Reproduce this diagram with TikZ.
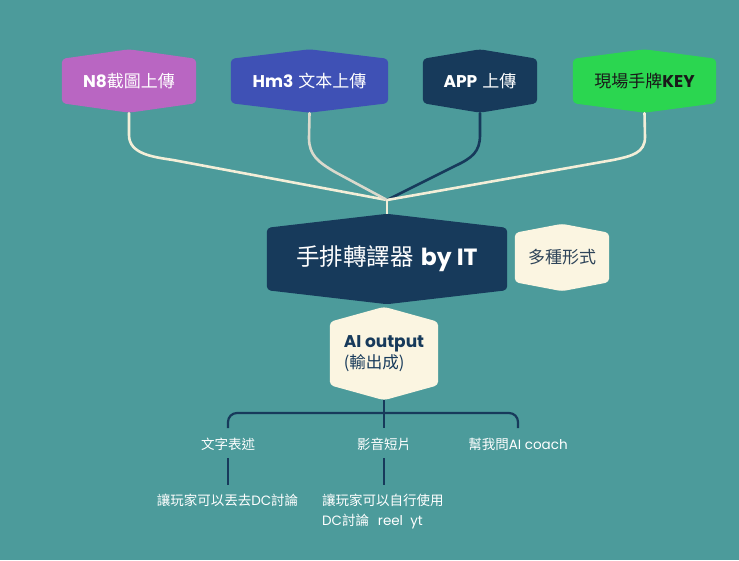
\documentclass[tikz,border=0pt]{standalone}
\usepackage{fontspec}
\newfontfamily\cjk{Noto Sans CJK TC}
\newfontfamily\lat{Poppins}
\usetikzlibrary{backgrounds}
\definecolor{bgteal}{HTML}{4C9B9B}
\definecolor{navy}{HTML}{173A5B}
\definecolor{purp}{HTML}{B966C2}
\definecolor{indig}{HTML}{3F51B5}
\definecolor{grn}{HTML}{2BD650}
\definecolor{cream}{HTML}{FBF5E1}
\definecolor{creamline}{HTML}{F3EED8}
\definecolor{greyline}{HTML}{DAD9CC}
\definecolor{darktxt}{HTML}{2E4459}
\newcommand{\hexfill}[3]{\fill[#2, rounded corners=4pt] (#1.north west) -- ([yshift=#3]#1.north) -- (#1.north east) -- (#1.south east) -- ([yshift=-#3]#1.south) -- (#1.south west) -- cycle;}
\tikzset{
  hexnode/.style={inner sep=0pt, align=center},
  toptxt/.style={font=\fontsize{17}{20}\selectfont, text=white},
  link/.style={line width=2.6pt, line cap=round},
  navylink/.style={line width=2.2pt, draw=navy},
  lbl/.style={font=\fontsize{13.5}{20}\selectfont, text=white, inner sep=0pt}
}
\begin{document}
\begin{tikzpicture}[x=1pt,y=-1pt]
\useasboundingbox (0,0) rectangle (739,560);
% top sources
\node[hexnode, toptxt, minimum width=134pt, minimum height=44pt] (n8) at (129,81) {{\lat\bfseries N8}{\cjk 截圖上傳}};
\node[hexnode, toptxt, minimum width=157pt, minimum height=44pt] (hm3) at (309.5,81) {{\lat\bfseries Hm3} {\cjk 文本上傳}};
\node[hexnode, toptxt, minimum width=114pt, minimum height=44pt] (app) at (480,81) {{\lat\bfseries APP} {\cjk 上傳}};
\node[hexnode, toptxt, text=black!90, minimum width=143pt, minimum height=44pt] (key) at (644.5,81) {{\cjk 現場手牌}{\lat\bfseries KEY}};
% main
\node[hexnode, font=\fontsize{23.5}{28}\selectfont, text=white, minimum width=240pt, minimum height=62pt] (main) at (387,259) {{\cjk 手排轉譯器} {\lat\bfseries by IT}};
\node[hexnode, font=\fontsize{17}{20}\selectfont, text=darktxt, minimum width=94pt, minimum height=49pt] (multi) at (562,257.5) {\cjk 多種形式};
\node[hexnode, align=left, text=navy, minimum width=108pt, minimum height=63pt] (ai) at (384,353.5) {{\fontsize{17}{23}\selectfont\lat\bfseries AI output}\\[1pt]{\fontsize{16.5}{23}\selectfont\cjk (輸出成)}};
% joint
\coordinate (join) at (387,200);
% outputs
\node[lbl] (t1) at (228,444) {\cjk 文字表述};
\node[lbl] (t2) at (384,444) {\cjk 影音短片};
\node[lbl] (t3) at (518,444) {{\cjk 幫我問}{\lat AI coach}};
\node[lbl] (b1) at (227.5,500) {{\cjk 讓玩家可以丟去}{\lat DC}{\cjk 討論}};
\node[lbl, anchor=north west, align=left, font=\fontsize{13.5}{20}\selectfont] (b2) at (322,493.5) {{\cjk 讓玩家可以自行使用}\\{\lat DC}{\cjk 討論}\ \ {\lat reel\ \ yt}};
\coordinate (brk) at (384,413);
\coordinate (brkend) at (384,428);
\coordinate (lowend) at (227.5,485);
% connectors top
\draw[link, draw=creamline] ([yshift=-10pt]n8.south) -- (129,135) .. controls (129,154) and (153,157) .. (173,160) -- (join);
\draw[link, draw=greyline] ([yshift=-10pt]hm3.south) -- (309,138) .. controls (309,155) and (318,162) .. (335,172) -- (join);
\draw[link, draw=navy] ([yshift=-10pt]app.south) -- (480,135) .. controls (480,152) and (472,158) .. (455,166) -- (join);
\draw[link, draw=creamline] ([yshift=-10pt]key.south) -- (645,137) .. controls (645,153) and (632,156) .. (613,160) -- (join);
\draw[link, draw=creamline, line cap=butt] (join) -- ([yshift=14pt]main.north);
% bottom tree
\draw[navylink] ([yshift=-15pt]ai.south) -- (brkend);
\draw[navylink, rounded corners=9pt] (t1 |- brkend) -- (t1 |- brk) -- (t3 |- brk) -- (t3 |- brkend);
\draw[navylink] ([yshift=-14pt]t1.center) -- (t1 |- lowend);
\draw[navylink] ([yshift=-14pt]t2.center) -- (t2 |- lowend);
\begin{pgfonlayer}{background}
\fill[bgteal] (0,0) rectangle (739,560);
\hexfill{n8}{purp}{9.5pt}
\hexfill{hm3}{indig}{9.5pt}
\hexfill{app}{navy}{9.5pt}
\hexfill{key}{grn}{9.5pt}
\hexfill{main}{navy}{14pt}
\hexfill{multi}{cream}{9pt}
\hexfill{ai}{cream}{15pt}
\end{pgfonlayer}
\end{tikzpicture}
\end{document}
